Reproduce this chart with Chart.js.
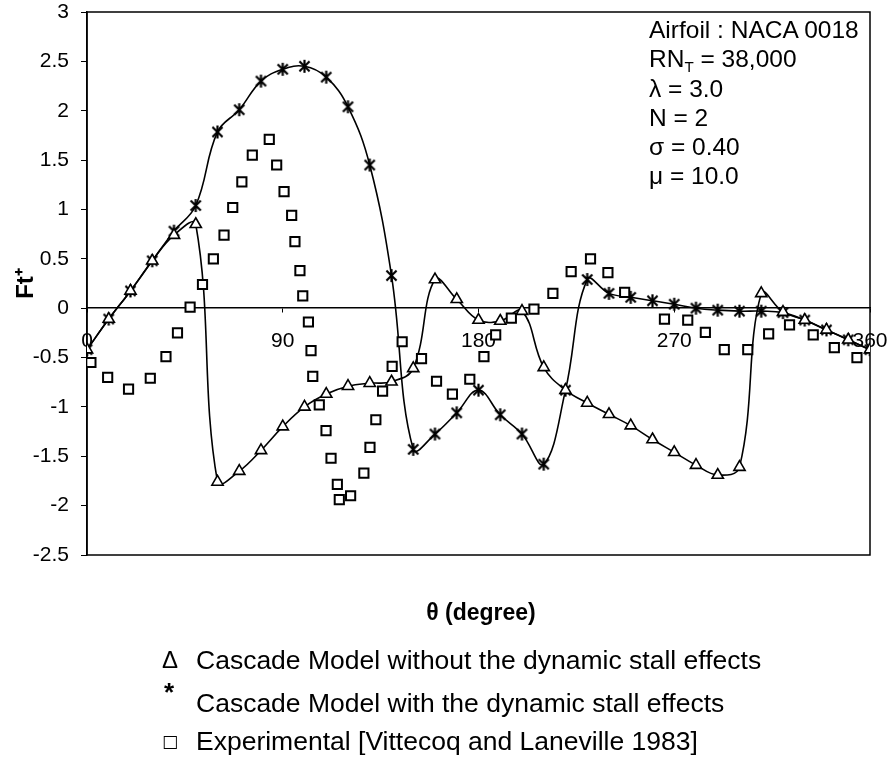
<!DOCTYPE html>
<html><head><meta charset="utf-8">
<script src="https://cdn.jsdelivr.net/npm/chart.js@4.4.1/dist/chart.umd.min.js"></script>
<style>
html,body{margin:0;padding:0;background:#fff;}
#wrap{position:relative;width:890px;height:763px;font-family:"Liberation Sans",Arial,sans-serif;color:#000;overflow:hidden;}
#c{position:absolute;left:0;top:0;}
.t{position:absolute;white-space:nowrap;}
#info{left:649px;top:15px;font-size:24.5px;line-height:29.3px;}
#info sub{font-size:62%;vertical-align:-0.3em;line-height:0;}
#xt{left:380px;width:202px;text-align:center;top:598px;font-size:23px;font-weight:bold;line-height:28px;}
.lg{left:196px;font-size:26.5px;line-height:30px;}
</style></head><body>
<div id="wrap">
<canvas id="c" width="890" height="763"></canvas>
<div id="info" class="t">Airfoil : NACA 0018<br>RN<sub>T</sub> = 38,000<br>λ = 3.0<br>N = 2<br>σ = 0.40<br>μ = 10.0</div>
<div id="xt" class="t">θ (degree)</div>
<div class="t" style="left:162px;top:645px;font-size:24px;line-height:30px;">Δ</div>
<div class="t lg" style="top:645px;">Cascade Model without the dynamic stall effects</div>
<div class="t" style="left:164px;top:677px;font-size:26px;line-height:30px;font-weight:bold;">*</div>
<div class="t lg" style="top:688px;">Cascade Model with the dynamic stall effects</div>
<div class="t" style="left:162px;top:729px;font-family:'DejaVu Sans';font-size:17px;line-height:24px;">□</div>
<div class="t lg" style="top:726px;">Experimental [Vittecoq and Laneville 1983]</div>
</div>
<script>
// ---- data ----
const thetaModel = [0,10,20,30,40,50,60,70,80,90,100,110,120,130,140,150,160,170,180,
  190,200,210,220,230,240,250,260,270,280,290,300,310,320,330,340,350,360];
const noStall = [-0.42,-0.11,0.175,0.48,0.74,0.85,-1.76,-1.65,-1.44,-1.20,-1.00,-0.87,-0.79,-0.76,-0.745,-0.61,0.29,0.09,-0.12,
  -0.13,-0.03,-0.60,-0.83,-0.96,-1.075,-1.19,-1.33,-1.46,-1.59,-1.69,-1.61,0.15,-0.04,-0.12,-0.22,-0.32,-0.42];
const withStall = [-0.42,-0.11,0.175,0.48,0.78,1.04,1.785,2.01,2.30,2.42,2.45,2.34,2.04,1.45,0.33,-1.43,-1.275,-1.06,-0.83,
  -1.08,-1.275,-1.58,-0.83,0.29,0.15,0.11,0.075,0.04,0.0,-0.02,-0.03,-0.03,-0.045,-0.12,-0.22,-0.32,-0.42];
const expTheta = [1.8,9.5,19.1,29.1,36.3,41.6,47.4,53.1,58.1,63,67,71.2,76,83.8,87.2,90.6,94.1,95.6,97.9,99.2,
  101.8,103,103.8,106.8,109.9,112.2,115.1,116,121.2,127.3,130.1,132.8,135.9,140.3,144.9,153.8,160.7,168,176,182.5,
  187.9,195.1,205.5,214.2,222.6,231.5,239.5,247.2,265.5,276.2,284.3,293,303.8,313.4,323,333.9,343.6,354];
const expFt = [-0.55,-0.70,-0.82,-0.71,-0.49,-0.25,0.01,0.24,0.50,0.74,1.02,1.28,1.55,1.71,1.45,1.18,0.94,0.675,0.38,0.125,
  -0.14,-0.43,-0.69,-0.98,-1.24,-1.52,-1.785,-1.94,-1.90,-1.67,-1.41,-1.13,-0.84,-0.59,-0.34,-0.51,-0.74,-0.87,-0.72,-0.49,
  -0.27,-0.10,-0.01,0.15,0.37,0.50,0.36,0.16,-0.11,-0.12,-0.245,-0.42,-0.42,-0.26,-0.17,-0.27,-0.40,-0.50];
const xTickValues = [0,90,180,270,360];
const yMin = -2.5, yMax = 3, yStep = 0.5;

// ---- marker: Excel-like asterisk ----
function asteriskImg(size, lw){
  const c = document.createElement('canvas'); c.width = c.height = size;
  const g = c.getContext('2d'); g.strokeStyle = '#000'; g.lineWidth = lw;
  const m = size/2, r = size/2 - 1, d = r*0.78;
  g.beginPath();
  g.moveTo(m-d, m-d); g.lineTo(m+d, m+d);
  g.moveTo(m+d, m-d); g.lineTo(m-d, m+d);
  g.moveTo(m, m-r); g.lineTo(m, m+r);
  g.stroke();
  return c;
}
const star = asteriskImg(15, 2.2);

const frame = {
  id: 'frame',
  beforeDatasetsDraw(chart){
    const {ctx, chartArea:a} = chart;
    ctx.save(); ctx.strokeStyle = '#000'; ctx.lineWidth = 1.5;
    ctx.strokeRect(a.left, a.top, a.right - a.left, a.bottom - a.top);
    ctx.restore();
  }
};

Chart.defaults.font.family = '"Liberation Sans", Arial, sans-serif';
Chart.defaults.color = '#000';

new Chart(document.getElementById('c'), {
  type: 'scatter',
  data: {
    datasets: [
      {
        label: 'Experimental [Vittecoq and Laneville 1983]',
        data: expTheta.map((t,i)=>({x:t, y:expFt[i]})),
        showLine: false, pointStyle: 'rect', pointRadius: 6.5, pointBorderWidth: 2,
        pointBackgroundColor: '#fff', pointBorderColor: '#000', order: 0
      },
      {
        label: 'Cascade Model without the dynamic stall effects',
        data: thetaModel.map((t,i)=>({x:t, y:noStall[i]})),
        showLine: true, borderColor: '#000', borderWidth: 1.6, tension: 0.4,
        pointStyle: 'triangle', pointRadius: 6.5, pointBorderWidth: 1.6,
        pointBackgroundColor: '#fff', pointBorderColor: '#000', order: 1
      },
      {
        label: 'Cascade Model with the dynamic stall effects',
        data: thetaModel.map((t,i)=>({x:t, y:withStall[i]})),
        showLine: true, borderColor: '#000', borderWidth: 1.6, tension: 0.4,
        pointStyle: star, pointRadius: 7, order: 2
      }
    ]
  },
  options: {
    responsive: false, animation: false, devicePixelRatio: 1,
    layout: { padding: { left: 12, right: 20, top: 12, bottom: 208 } },
    plugins: { legend: { display: false }, tooltip: { enabled: false } },
    scales: {
      x: {
        type: 'linear', min: 0, max: 360, position: { y: 0 },
        afterBuildTicks: s => { s.ticks = xTickValues.map(v => ({value: v})); },
        afterFit: s => { s.paddingLeft = 0; s.paddingRight = 0; },
        ticks: { font: { size: 21 }, padding: 16, maxRotation: 0, autoSkip: false },
        grid: { drawOnChartArea: false, drawTicks: true, tickLength: 4, color: '#000', lineWidth: 1 },
        border: { display: true, color: '#000', width: 1.5 }
      },
      y: {
        min: yMin, max: yMax,
        afterFit: s => { s.width = 75; s.paddingTop = 0; s.paddingBottom = 0; },
        ticks: { stepSize: yStep, font: { size: 21 }, padding: 12,
                 callback: v => String(Number(v.toFixed(1))) },
        grid: { drawOnChartArea: false, drawTicks: true, tickLength: 6, color: '#000', lineWidth: 1 },
        border: { display: true, color: '#000', width: 1.5 },
        title: { display: true, text: 'Ft⁺', font: { size: 24, weight: 'bold' }, padding: { top: 0, bottom: 0 } }
      }
    }
  },
  plugins: [frame]
});
</script>
</body></html>
